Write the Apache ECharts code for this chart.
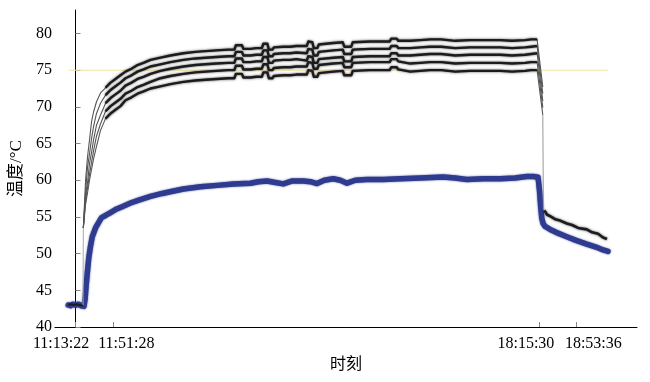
<!DOCTYPE html>
<html>
<head>
<meta charset="utf-8">
<script src="https://cdn.jsdelivr.net/npm/echarts@6/dist/echarts.min.js"></script>
<style>
html,body{margin:0;padding:0;background:#fff;}
#chart{width:650px;height:382px;}
</style>
</head>
<body>
<div id="chart"></div>
<script>
// x values: elapsed minutes (nominal) from 11:13:22
const tickValues = [0, 38.1, 471.7, 509.7];
const labelValues = [-14.7, 51.6, 458.0, 526.6];
const tickLabels = ['11:13:22', '11:51:28', '18:15:30', '18:53:36'];
const yTicks = [40, 45, 50, 55, 60, 65, 70, 75, 80];
const setpoint = 75;
const setpointX = [-6.8, 541.5];

// blue (thick) curve
const blueX = [-7.4,-5.1,-3.0,0,3.0,5.6,7.6,8.6,9.7,10.7,11.9,13.5,15.2,17.0,20.3,23.7,26.4,30.5,35.6,40.6,47.4,55.9,64.3,76.2,88.1,98.6,109.7,127.0,144.0,160.5,177.8,185.9,194.8,203.2,211.3,220.5,231.7,238.8,245.6,253.0,262.1,269.2,276.1,284.5,296.4,312.9,330.2,350.5,373.9,386.1,398.0,414.5,431.8,447.0,458.9,465.6,470.4,471.9,473.0,474.2,475.5,477.5,482.6,488.7,499.6,509.0,519.9,529.3,536.5,541.5];
const blueY = [43.0,42.9,43.1,43.0,43.1,42.9,42.7,42.8,43.8,45.5,47.3,49.5,51.0,52.3,53.5,54.3,54.9,55.2,55.6,56.0,56.4,56.9,57.3,57.8,58.2,58.5,58.8,59.1,59.3,59.5,59.6,59.8,59.9,59.7,59.5,59.9,59.9,59.8,59.55,60.0,60.2,60.0,59.6,60.0,60.1,60.1,60.2,60.3,60.45,60.3,60.1,60.2,60.2,60.3,60.5,60.5,60.4,58.5,56.5,54.8,54.1,53.7,53.3,52.9,52.3,51.8,51.3,50.9,50.5,50.3];

// five black sensor curves (rise, plateau, drop) on a shared x grid
const lineX = [7.9,10.2,12.2,14.2,16.3,18.3,21.3,25.4,30.5,
35.6,40.6,45.7,50.8,56.9,63.0,69.1,76.2,86.4,96.5,109.7,121.9,132.1,143.3,155.4,161.5,163.1,169.2,170.7,177.8,183.9,189.5,191.0,195.1,196.6,200.2,201.7,211.3,218.4,224.5,235.2,236.7,240.8,242.3,245.9,247.4,262.1,271.8,273.3,280.4,281.9,299.7,319.5,321.1,326.6,328.2,340.4,350.5,360.7,371.9,373.9,386.1,401.3,416.6,431.8,444.0,457.2,463.3,469.4,
475.2];
const line1 = [53.5,60.0,63.2,65.5,68.0,69.3,70.7,71.9,72.6,
73.3,73.8,74.3,74.8,75.2,75.7,76.0,76.4,76.7,77.0,77.3,77.5,77.6,77.7,77.8,77.8,78.4,78.4,77.9,77.9,78.0,78.0,78.6,78.6,77.8,77.8,78.1,78.2,78.2,78.3,78.3,78.9,78.8,78.0,78.0,78.5,78.7,78.8,78.2,78.2,78.8,78.9,78.9,79.3,79.3,79.0,79.0,79.1,79.2,79.2,79.0,79.0,79.1,79.1,79.1,79.0,79.1,79.2,79.2,
72.7];
const line2 = [53.5,58.5,61.8,63.6,65.7,67.3,69.1,70.5,71.6,
72.3,72.8,73.3,73.9,74.3,74.8,75.1,75.5,75.8,76.1,76.4,76.6,76.7,76.8,76.9,76.9,77.5,77.5,77.0,77.0,77.1,77.1,77.7,77.7,76.9,76.9,77.2,77.3,77.3,77.4,77.3,77.9,77.8,77.0,77.0,77.5,77.7,77.8,77.2,77.2,77.8,77.9,77.9,78.3,78.3,78.0,78.0,78.1,78.2,78.2,78.0,78.0,78.1,78.1,78.1,78.0,78.1,78.2,78.3,
71.8];
const line3 = [53.5,58.0,59.7,62.3,63.8,65.5,67.5,68.9,70.5,
71.2,71.7,72.2,72.9,73.3,73.8,74.1,74.5,74.9,75.2,75.5,75.7,75.8,75.9,76.0,76.0,76.6,76.6,76.1,76.1,76.2,76.2,76.8,76.8,76.0,76.0,76.3,76.4,76.4,76.5,76.3,76.9,76.8,76.0,76.0,76.5,76.7,76.8,76.2,76.2,76.8,76.9,76.9,77.3,77.3,77.0,77.0,77.1,77.2,77.2,77.0,77.0,77.1,77.1,77.1,77.0,77.1,77.2,77.3,
70.8];
const line4 = [53.5,57.3,59.0,60.8,62.5,64.0,66.0,67.7,69.4,
70.1,70.6,71.1,71.8,72.2,72.7,73.0,73.4,73.9,74.2,74.5,74.7,74.8,74.9,75.0,75.0,75.6,75.6,75.1,75.1,75.2,75.2,75.8,75.8,75.0,75.0,75.3,75.4,75.4,75.5,75.5,76.1,76.0,75.2,75.2,75.7,75.9,76.0,75.4,75.4,76.0,76.1,76.1,76.5,76.5,76.2,75.9,76.0,76.1,76.1,75.9,75.9,76.0,76.0,76.0,75.9,76.0,76.1,76.1,
69.9];
const line5 = [53.5,56.7,58.3,60.0,61.5,62.9,64.6,66.8,68.4,
69.1,69.6,70.1,70.9,71.3,71.8,72.1,72.5,72.8,73.1,73.4,73.6,73.7,73.8,73.9,73.9,74.5,74.5,74.0,74.0,74.1,74.1,74.7,74.7,73.9,73.9,74.2,74.3,74.3,74.4,74.4,75.0,74.9,74.1,74.1,74.6,74.8,74.9,74.3,74.3,74.9,75.0,75.0,75.4,75.4,75.1,74.8,74.9,75.0,75.0,74.8,74.8,74.9,74.9,74.9,74.8,74.9,75.0,75.0,
68.9];

// single black curve before heating and after switch-off
const startX = [-7.4,-5.1,-2.0,1.0,4.1,7.4];
const startY = [43.0,43.1,43.0,43.1,43.0,42.9];
const startConnX = [7.6, 7.9];
const startConnY = [43.0, 53.5];
const endConnX = [475.2, 475.8];
const endConnY = [68.9, 55.9];
const endX = [476.8,479.6,482.6,487.7,492.8,499.6,505.0,511.1,519.9,525.3,531.4,536.4,540.5];
const endY = [55.9,55.3,55.1,54.7,54.5,54.1,53.9,53.5,53.3,52.9,52.7,52.2,52.0];

const PLATEAU_START = 8, PLATEAU_END = 68;

function pairs(xs, ys) { return xs.map((x, i) => [x, ys[i]]); }

const chart = echarts.init(document.getElementById('chart'), null, {renderer: 'canvas'});
const serif = '"Liberation Serif", "Times New Roman", serif';
const cjk = '"Liberation Serif", "Noto Sans CJK SC", serif';

const series = [];
series.push({
  type: 'line', data: pairs(setpointX, [setpoint, setpoint]), showSymbol: false, silent: true,
  lineStyle: {color: '#f6e29c', width: 1}, z: 1
});
series.push({
  type: 'line', data: pairs(blueX, blueY), showSymbol: false, silent: true,
  lineStyle: {color: '#2e3b8e', width: 5.5, cap: 'round', join: 'round',
    shadowBlur: 2, shadowColor: 'rgba(46,59,142,0.8)'}, z: 2
});
[line1, line2, line3, line4, line5].forEach(ys => {
  const all = pairs(lineX, ys);
  series.push({
    type: 'line', data: all, showSymbol: false, silent: true,
    lineStyle: {color: '#555', width: 1.1}, z: 3
  });
  series.push({
    type: 'line', data: all.slice(PLATEAU_START, PLATEAU_END), showSymbol: false, silent: true,
    lineStyle: {color: '#1c1c1c', width: 2.4, join: 'round',
      shadowBlur: 2.5, shadowColor: 'rgba(0,0,0,0.7)'}, z: 4
  });
});
series.push({
  type: 'line', data: pairs(startX, startY), showSymbol: false, silent: true,
  lineStyle: {color: '#1c1c1c', width: 2}, z: 5
});
series.push({
  type: 'line', data: pairs(startConnX, startConnY), showSymbol: false, silent: true,
  lineStyle: {color: '#aaa', width: 1}, z: 3
});
series.push({
  type: 'line', data: pairs(endConnX, endConnY), showSymbol: false, silent: true,
  lineStyle: {color: '#999', width: 1}, z: 3
});
series.push({
  type: 'line', data: pairs(endX, endY), showSymbol: false, silent: true,
  lineStyle: {color: '#1c1c1c', width: 2.6, join: 'round',
    shadowBlur: 2.5, shadowColor: 'rgba(0,0,0,0.7)'}, z: 4
});

chart.setOption({
  animation: false,
  backgroundColor: '#fff',
  grid: {left: 54, right: 13, top: 10, bottom: 55, containLabel: false},
  xAxis: {
    type: 'value', min: -21.0, max: 571.0,
    name: '时刻', nameLocation: 'middle', nameGap: 22,
    nameTextStyle: {fontFamily: cjk, fontSize: 16, color: '#000'},
    axisLine: {show: true, lineStyle: {color: '#000', width: 1}},
    axisTick: {show: true, inside: true, length: 5, customValues: tickValues, lineStyle: {color: '#888'}},
    axisLabel: {
      customValues: labelValues, margin: 9,
      fontFamily: serif, fontSize: 16, color: '#000',
      formatter: v => { const i = labelValues.findIndex(t => Math.abs(t - v) < 0.01); return i >= 0 ? tickLabels[i] : ''; }
    },
    splitLine: {show: false}
  },
  yAxis: {
    type: 'value', min: 40, max: 83.2,
    name: '温度/°C', nameLocation: 'middle', nameGap: 26, nameRotate: 90,
    nameTextStyle: {fontFamily: cjk, fontSize: 17, color: '#000'},
    axisLine: {show: true, lineStyle: {color: '#000', width: 1}},
    axisTick: {show: true, inside: true, length: 5, customValues: yTicks, lineStyle: {color: '#888'}},
    axisLabel: {customValues: yTicks, margin: 3, fontFamily: serif, fontSize: 16, color: '#000'},
    splitLine: {show: false}
  },
  series: series
});
</script>
</body>
</html>
